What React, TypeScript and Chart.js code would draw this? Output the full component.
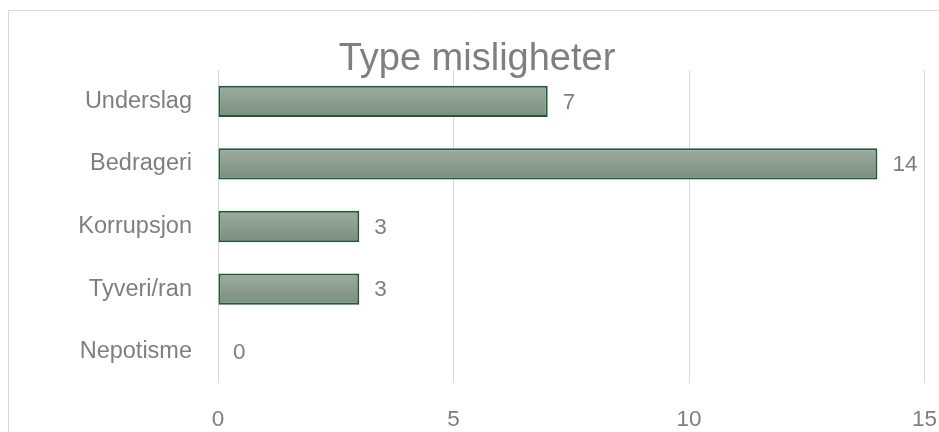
import React, { useEffect, useRef } from "react";
import { Chart, registerables } from "chart.js";

Chart.register(...registerables);

const categories = ["Underslag", "Bedrageri", "Korrupsjon", "Tyveri/ran", "Nepotisme"];
const values = [7, 14, 3, 3, 0];
const titleText = "Type misligheter";
const xMin = 0;
const xMax = 15;
const xStep = 5;

const FONT = "'Liberation Sans', Arial, sans-serif";
const TEXT = "#7f7f7f";
const GRID = "#d9d9d9";

export default function App() {
  const ref = useRef<HTMLCanvasElement | null>(null);

  useEffect(() => {
    const canvas = ref.current;
    if (!canvas) return;

    const framePlugin = {
      id: "frame",
      beforeDraw(chart: any) {
        const ctx = chart.ctx;
        ctx.save();
        ctx.strokeStyle = GRID;
        ctx.lineWidth = 1;
        ctx.beginPath();
        ctx.moveTo(8.5, 432);
        ctx.lineTo(8.5, 10.5);
        ctx.lineTo(939, 10.5);
        ctx.stroke();
        ctx.restore();
      },
    };

    const titlePlugin = {
      id: "customTitle",
      afterDraw(chart: any) {
        const ctx = chart.ctx;
        ctx.save();
        ctx.font = `38px ${FONT}`;
        ctx.fillStyle = TEXT;
        ctx.textAlign = "center";
        ctx.textBaseline = "alphabetic";
        ctx.fillText(titleText, 477, 70);
        ctx.restore();
      },
    };

    const labelPlugin = {
      id: "valueLabels",
      afterDatasetsDraw(chart: any) {
        const ctx = chart.ctx;
        const meta = chart.getDatasetMeta(0);
        ctx.save();
        ctx.font = `22.5px ${FONT}`;
        ctx.fillStyle = TEXT;
        ctx.textAlign = "left";
        ctx.textBaseline = "middle";
        meta.data.forEach((el: any, i: number) => {
          ctx.fillText(String(values[i]), el.x + 15, el.y + 1);
        });
        ctx.restore();
      },
    };

    const chart = new Chart(canvas, {
      type: "bar",
      data: {
        labels: categories,
        datasets: [
          {
            data: values,
            backgroundColor: (c: any) => {
              const ch = c.chart;
              const y = ch.scales && ch.scales.y;
              if (!y || c.dataIndex === undefined) return "#8c9e8f";
              const cy = y.getPixelForValue(c.dataIndex);
              if (!Number.isFinite(cy)) return "#8c9e8f";
              const half = 16;
              const g = ch.ctx.createLinearGradient(0, cy - half, 0, cy + half);
              g.addColorStop(0, "#9cad9f");
              g.addColorStop(1, "#7a8e7d");
              return g;
            },
            borderColor: "#1d5a35",
            borderWidth: 2,
            borderSkipped: false,
            barPercentage: 0.5,
            categoryPercentage: 1,
          },
        ],
      },
      options: {
        responsive: false,
        animation: false,
        indexAxis: "y",
        layout: { padding: { top: 70, right: 14.5, left: 0, bottom: 0 } },
        plugins: {
          legend: { display: false },
          title: { display: false },
          tooltip: { enabled: false },
        },
        scales: {
          x: {
            min: xMin,
            max: xMax,
            ticks: {
              stepSize: xStep,
              color: TEXT,
              font: { family: FONT, size: 22.5 },
              padding: 23,
              maxRotation: 0,
            },
            grid: { color: GRID, lineWidth: 1, drawTicks: false },
            border: { display: false },
            afterFit(scale: any) {
              scale.height = 49;
              scale.paddingLeft = 0;
              scale.paddingRight = 0;
            },
          },
          y: {
            ticks: {
              color: TEXT,
              font: { family: FONT, size: 23.5 },
              padding: 26,
            },
            grid: { display: false, drawTicks: false },
            border: { display: false },
            afterFit(scale: any) {
              scale.width = 218;
              scale.paddingTop = 0;
              scale.paddingBottom = 0;
            },
          },
        },
      },
      plugins: [framePlugin, titlePlugin, labelPlugin],
    } as any);

    return () => chart.destroy();
  }, []);

  return (
    <canvas
      ref={ref}
      width={939}
      height={432}
      style={{ position: "fixed", left: 0, top: 0, width: 939, height: 432, display: "block" }}
    />
  );
}
